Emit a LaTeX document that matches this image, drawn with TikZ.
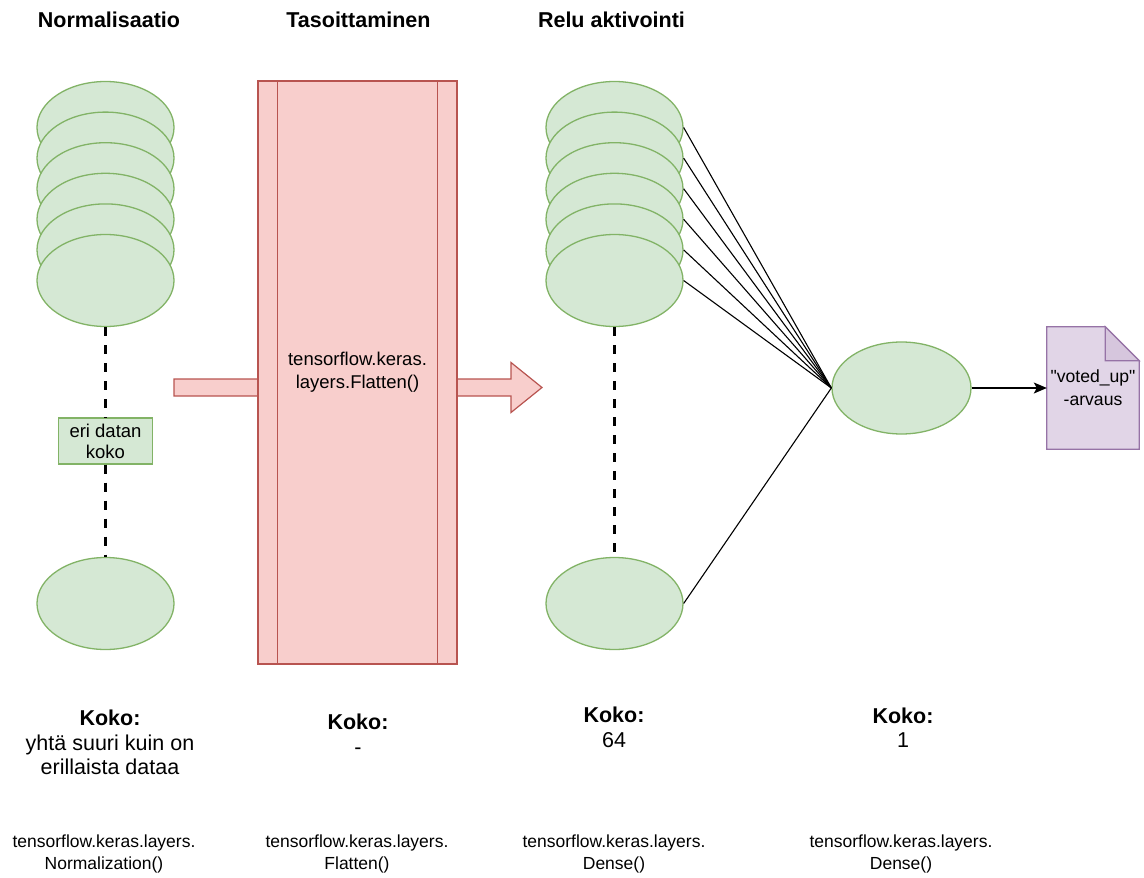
\documentclass[tikz,border=0pt]{standalone}
\usepackage{fontspec}
\setmainfont{Liberation Sans}
\newfontfamily\plainquotes{Liberation Sans}[Ligatures=TeXOff]
\usetikzlibrary{shapes.geometric,arrows.meta,calc}
\definecolor{gfill}{HTML}{D5E8D4}
\definecolor{gline}{HTML}{82B366}
\definecolor{rfill}{HTML}{F8CECC}
\definecolor{rline}{HTML}{B85450}
\definecolor{pfill}{HTML}{E1D5E7}
\definecolor{pline}{HTML}{9673A6}
\begin{document}
\begin{tikzpicture}[x=1pt,y=-1pt,
  neuron/.style={ellipse, draw=gline, fill=gfill, line width=1.3pt, minimum width=137pt, minimum height=92pt, inner sep=0pt},
  bigtxt/.style={font=\fontsize{21.5}{24.5}\selectfont, align=center, inner sep=0pt},
  smalltxt/.style={font=\fontsize{17.5}{22}\selectfont, align=center, inner sep=0pt},
  dotline/.style={line width=2.5pt, dash pattern=on 9pt off 9pt},
  fanline/.style={line width=1.1pt, black}]
\useasboundingbox (0,0) rectangle (1144,878);

% titles
\node[bigtxt, font=\fontsize{21.5}{24.5}\selectfont\bfseries] (t1) at (109,20) {Normalisaatio};
\node[bigtxt, font=\fontsize{21.5}{24.5}\selectfont\bfseries] (t2) at (358.5,20) {Tasoittaminen};
\node[bigtxt, font=\fontsize{21.5}{24.5}\selectfont\bfseries] (t3) at (611.5,20) {Relu aktivointi};

% flex arrow (behind the flatten block)
\coordinate (fa) at (174,387.5);
\coordinate (fb) at (542,387.5);
\draw[draw=rline, fill=rfill, line width=1.2pt]
  ($(fa)+(0,-8.5)$) -- ($(fb)+(-31,-8.5)$) -- ($(fb)+(-31,-25)$) -- (fb)
  -- ($(fb)+(-31,25)$) -- ($(fb)+(-31,8.5)$) -- ($(fa)+(0,8.5)$) -- cycle;

% flatten block
\node[draw=rline, fill=rfill, line width=1.2pt, minimum width=199pt, minimum height=583pt,
      font=\fontsize{18.5}{23}\selectfont, align=center, inner sep=0pt] (flat) at (357.5,372.5)
  {tensorflow.keras.\\layers.Flatten()};
\draw[draw=rline, line width=1.2pt] ([xshift=20pt]flat.north west) -- ([xshift=20pt]flat.south west);
\draw[draw=rline, line width=1.2pt] ([xshift=-20pt]flat.north east) -- ([xshift=-20pt]flat.south east);

% left stack
\foreach \i in {1,...,6} {
  \node[neuron] (l\i) at (105.5, {127.5+30.6*(\i-1)}) {};
}
\node[neuron] (lb) at (105.5,603.5) {};
\node[draw=gline, fill=gfill, line width=1.2pt, minimum width=94pt, minimum height=46pt,
      font=\fontsize{18.5}{21}\selectfont, align=center, inner sep=0pt] (size) at (105.5,441) {eri datan\\koko};
\draw[dotline] (l6.south) -- (size.north);
\draw[dotline] (size.south) -- (lb.north);

% relu stack
\foreach \i in {1,...,6} {
  \node[neuron] (r\i) at (614.5, {127.5+30.6*(\i-1)}) {};
}
\node[neuron] (rb) at (614.5,603.5) {};
\draw[dotline] (r6.south) -- (rb.north);

% output neuron
\node[neuron, minimum width=139pt] (out) at (901.5,388) {};
\foreach \i in {1,...,6} {
  \draw[fanline] (r\i.east) -- (out.west);
}
\draw[fanline] (rb.east) -- (out.west);

% document
\node[inner sep=0pt, minimum width=92pt, minimum height=122pt] (doc) at (1093,388) {};
\draw[draw=pline, fill=pfill, line width=1.2pt]
  (doc.north west) -- ([xshift=-34pt]doc.north east) -- ([yshift=-34pt]doc.north east)
  -- (doc.south east) -- (doc.south west) -- cycle;
\draw[draw=pline, fill=pfill!85!pline, line width=1.2pt]
  ([xshift=-34pt]doc.north east) -- ([xshift=-34pt,yshift=-34pt]doc.north east) -- ([yshift=-34pt]doc.north east) -- cycle;
\node[smalltxt, font=\plainquotes\fontsize{17.6}{23}\selectfont] (doctext) at (doc.center) {"voted\_up"\\-arvaus};
\draw[line width=1.2pt, -{Stealth[length=13pt,width=11pt,inset=3pt]}] (out.east) -- (doc.west);

% size labels
\node[bigtxt] (k1) at (110,742.5) {\textbf{Koko:}\\yhtä suuri kuin on\\erillaista dataa};
\node[bigtxt] (k2) at (358,734) {\textbf{Koko:}\\-};
\node[bigtxt] (k3) at (614,727.5) {\textbf{Koko:}\\64};
\node[bigtxt] (k4) at (903,727.5) {\textbf{Koko:}\\1};

% layer class labels
\node[smalltxt] (c1) at (104,854) {tensorflow.keras.layers.\\Normalization()};
\node[smalltxt] (c2) at (357,854) {tensorflow.keras.layers.\\Flatten()};
\node[smalltxt] (c3) at (614,854) {tensorflow.keras.layers.\\Dense()};
\node[smalltxt] (c4) at (901,854) {tensorflow.keras.layers.\\Dense()};
\end{tikzpicture}
\end{document}
